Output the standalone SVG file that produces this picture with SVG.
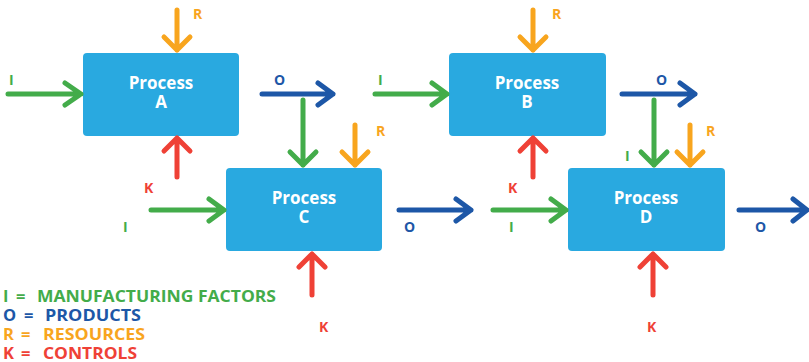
<svg xmlns="http://www.w3.org/2000/svg" width="809" height="362" viewBox="0 0 809 362">
  <style>
    .box { fill: #29A9E0; }
    .title { font-family: "Open Sans", "Liberation Sans", sans-serif; font-weight: bold; font-size: 17px; fill: #ffffff; text-anchor: middle; }
    .lbl { font-family: "Open Sans", "Liberation Sans", sans-serif; font-weight: bold; font-size: 14px; }
    .leg { font-family: "Open Sans", "Liberation Sans", sans-serif; font-weight: bold; font-size: 16.5px; }
    .arr { fill: none; stroke-width: 5; stroke-linecap: round; stroke-linejoin: round; }
    .g { stroke: #43AC4A; } .b { stroke: #1D57A7; } .o { stroke: #F8A51E; } .r { stroke: #EF4136; }
    .tg { fill: #43AC4A; } .tb { fill: #1D57A7; } .to { fill: #F8A51E; } .tr { fill: #EF4136; }
  </style>

  <g id="process-a">
    <rect class="box" x="83" y="53" width="156" height="83" rx="4"/>
    <text class="title" x="161" y="89">Process</text>
    <text class="title" x="161" y="108">A</text>
  </g>
  <g id="process-b">
    <rect class="box" x="449" y="53" width="157" height="83" rx="4"/>
    <text class="title" x="527" y="89">Process</text>
    <text class="title" x="527" y="108">B</text>
  </g>
  <g id="process-c">
    <rect class="box" x="226" y="168" width="156" height="83" rx="4"/>
    <text class="title" x="304" y="204">Process</text>
    <text class="title" x="304" y="223">C</text>
  </g>
  <g id="process-d">
    <rect class="box" x="568" y="168" width="157" height="83" rx="4"/>
    <text class="title" x="646" y="204">Process</text>
    <text class="title" x="646" y="223">D</text>
  </g>

  <g id="connectors">
    <!-- Process A -->
    <path class="arr g" d="M8 94H81M65 83L81 94L65 105"/>
    <path class="arr o" d="M177 10V50M164 37L177 50L190 37"/>
    <path class="arr r" d="M177 177V138M164 151L177 138L190 151"/>
    <path class="arr b" d="M262 94H333M318 83L333 94L318 105"/>
    <!-- A output into C -->
    <path class="arr g" d="M303 100V165M290 152L303 165L316 152"/>
    <path class="arr o" d="M355 125V165M342 152L355 165L368 152"/>
    <!-- Process B -->
    <path class="arr g" d="M375 94H447M432 83L447 94L432 105"/>
    <path class="arr o" d="M533 10V50M520 37L533 50L546 37"/>
    <path class="arr r" d="M533 177V138M520 151L533 138L546 151"/>
    <path class="arr b" d="M622 94H695M680 83L695 94L680 105"/>
    <!-- B output into D -->
    <path class="arr g" d="M654 100V165M641 152L654 165L667 152"/>
    <path class="arr o" d="M690 125V165M677 152L690 165L703 152"/>
    <!-- Process C -->
    <path class="arr g" d="M151 210H224M209 199L224 210L209 221"/>
    <path class="arr r" d="M312 295V254M299 267L312 254L325 267"/>
    <path class="arr b" d="M399 210H471M456 199L471 210L456 221"/>
    <!-- Process D -->
    <path class="arr g" d="M493 210H566M551 199L566 210L551 221"/>
    <path class="arr r" d="M653 295V254M640 267L653 254L666 267"/>
    <path class="arr b" d="M739 210H807M793 199L807 210L793 221"/>
  </g>

  <g id="labels">
    <text class="lbl tg" x="9" y="85">I</text>
    <text class="lbl to" x="193" y="19">R</text>
    <text class="lbl tr" x="144" y="193">K</text>
    <text class="lbl tb" x="274" y="85">O</text>
    <text class="lbl to" x="376" y="136">R</text>
    <text class="lbl tg" x="378" y="85">I</text>
    <text class="lbl to" x="552" y="19">R</text>
    <text class="lbl tr" x="508" y="193">K</text>
    <text class="lbl tb" x="656" y="85">O</text>
    <text class="lbl tg" x="625" y="161">I</text>
    <text class="lbl to" x="706" y="136">R</text>
    <text class="lbl tg" x="123" y="232">I</text>
    <text class="lbl tr" x="319" y="332">K</text>
    <text class="lbl tb" x="404" y="232">O</text>
    <text class="lbl tg" x="509" y="232">I</text>
    <text class="lbl tr" x="647" y="332">K</text>
    <text class="lbl tb" x="755" y="232">O</text>
  </g>

  <g id="legend">
    <g id="legend-i" class="leg tg">
      <text x="3" y="302">I</text>
      <text x="16" y="302">=</text>
      <text x="37" y="302" textLength="239" lengthAdjust="spacingAndGlyphs">MANUFACTURING FACTORS</text>
    </g>
    <g id="legend-o" class="leg tb">
      <text x="3" y="321">O</text>
      <text x="24" y="321">=</text>
      <text x="45" y="321" textLength="96" lengthAdjust="spacingAndGlyphs">PRODUCTS</text>
    </g>
    <g id="legend-r" class="leg to">
      <text x="3" y="340">R</text>
      <text x="21" y="340">=</text>
      <text x="43" y="340" textLength="102" lengthAdjust="spacingAndGlyphs">RESOURCES</text>
    </g>
    <g id="legend-k" class="leg tr">
      <text x="3" y="359">K</text>
      <text x="21" y="359">=</text>
      <text x="43" y="359" textLength="94" lengthAdjust="spacingAndGlyphs">CONTROLS</text>
    </g>
  </g>
</svg>
